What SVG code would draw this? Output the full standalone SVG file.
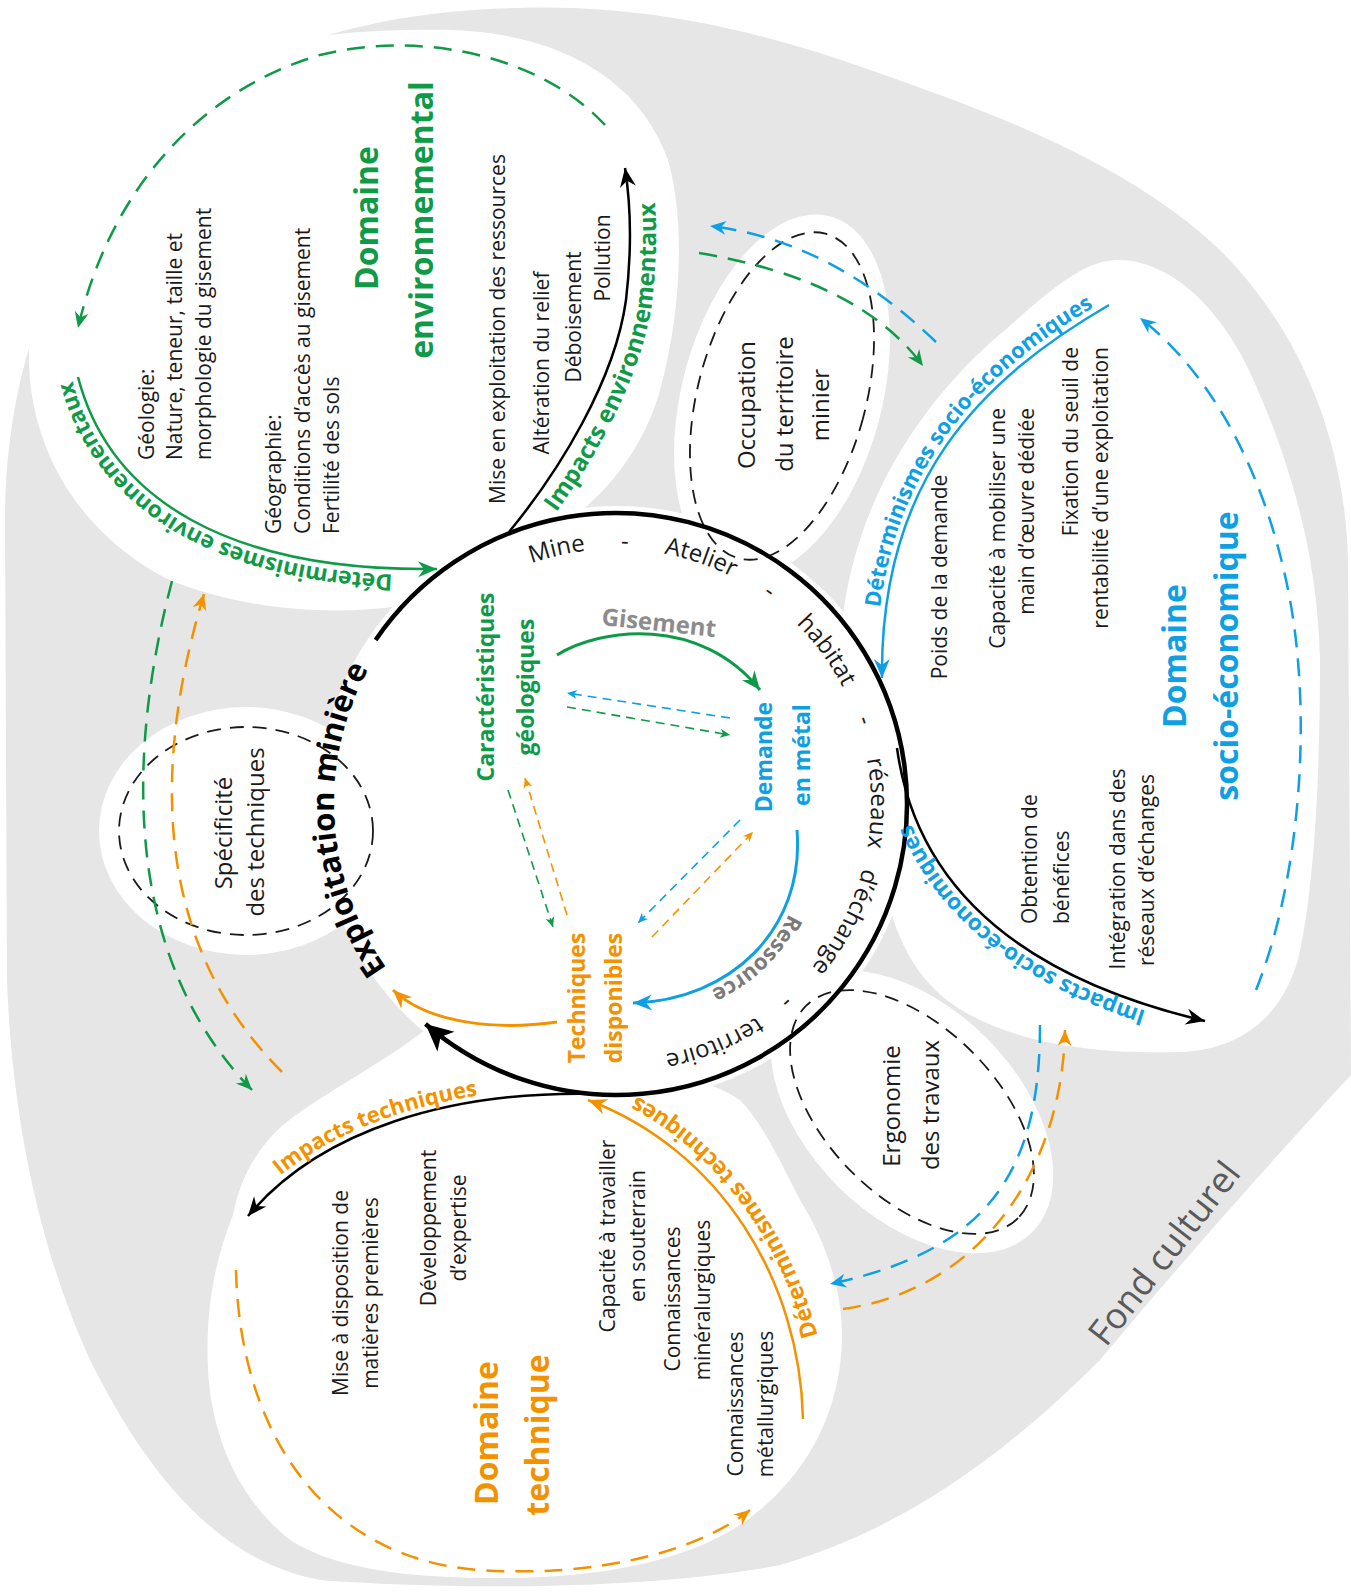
<svg xmlns="http://www.w3.org/2000/svg" width="1351" height="1595" viewBox="0 0 1351 1595">
<style>
text{font-family:"Open Sans","Liberation Sans",sans-serif}
.t{font-size:21px;fill:#1a1a1a}
.ti{font-size:32px;font-weight:700}
.nl{font-size:23px;font-weight:700}
.al{font-weight:700}
.rg{font-size:24px;fill:#1a1a1a}
.el{font-size:24px;fill:#1a1a1a}
.cg{fill:#0f9a48}.cb{fill:#0ea0e3}.co{fill:#f39200}.cy{fill:#8c8c8c}
.ln{fill:none}
.dl{stroke-dasharray:18 11}
.ds{stroke-dasharray:9 6}
.de{fill:none;stroke:#1a1a1a;stroke-width:1.8;stroke-dasharray:14 9}
.zone{fill:#fff}
</style>
<defs>
<marker id="mBL" markerUnits="userSpaceOnUse" viewBox="-28 -14 30 28" markerWidth="30" markerHeight="28" refX="0" refY="0" orient="auto"><path d="M0,0 L-27,-13 L-20,0 L-27,13Z" fill="#000"/></marker>
<marker id="mB" markerUnits="userSpaceOnUse" viewBox="-20 -9 22 18" markerWidth="22" markerHeight="18" refX="0" refY="0" orient="auto"><path d="M0,0 L-19,-8 L-13,0 L-19,8Z" fill="#000"/></marker>
<marker id="mG" markerUnits="userSpaceOnUse" viewBox="-20 -9 22 18" markerWidth="22" markerHeight="18" refX="0" refY="0" orient="auto"><path d="M0,0 L-19,-8 L-13,0 L-19,8Z" fill="#0f9a48"/></marker>
<marker id="mU" markerUnits="userSpaceOnUse" viewBox="-20 -9 22 18" markerWidth="22" markerHeight="18" refX="0" refY="0" orient="auto"><path d="M0,0 L-19,-8 L-13,0 L-19,8Z" fill="#0ea0e3"/></marker>
<marker id="mO" markerUnits="userSpaceOnUse" viewBox="-20 -9 22 18" markerWidth="22" markerHeight="18" refX="0" refY="0" orient="auto"><path d="M0,0 L-19,-8 L-13,0 L-19,8Z" fill="#f39200"/></marker>
<marker id="mGd" markerUnits="userSpaceOnUse" viewBox="-18 -8 20 16" markerWidth="20" markerHeight="16" refX="0" refY="0" orient="auto"><path d="M0,0 L-16,-7 L-11,0 L-16,7Z" fill="#0f9a48"/></marker>
<marker id="mUd" markerUnits="userSpaceOnUse" viewBox="-18 -8 20 16" markerWidth="20" markerHeight="16" refX="0" refY="0" orient="auto"><path d="M0,0 L-16,-7 L-11,0 L-16,7Z" fill="#0ea0e3"/></marker>
<marker id="mOd" markerUnits="userSpaceOnUse" viewBox="-18 -8 20 16" markerWidth="20" markerHeight="16" refX="0" refY="0" orient="auto"><path d="M0,0 L-16,-7 L-11,0 L-16,7Z" fill="#f39200"/></marker>
<marker id="mGs" markerUnits="userSpaceOnUse" viewBox="-12 -6 14 12" markerWidth="14" markerHeight="12" refX="0" refY="0" orient="auto"><path d="M0,0 L-10,-4.5 L-7,0 L-10,4.5Z" fill="#0f9a48"/></marker>
<marker id="mUs" markerUnits="userSpaceOnUse" viewBox="-12 -6 14 12" markerWidth="14" markerHeight="12" refX="0" refY="0" orient="auto"><path d="M0,0 L-10,-4.5 L-7,0 L-10,4.5Z" fill="#0ea0e3"/></marker>
<marker id="mOs" markerUnits="userSpaceOnUse" viewBox="-12 -6 14 12" markerWidth="14" markerHeight="12" refX="0" refY="0" orient="auto"><path d="M0,0 L-10,-4.5 L-7,0 L-10,4.5Z" fill="#f39200"/></marker>
<path id="pRing" d="M 361,804 A 255,255 0 1 1 871,804 A 255,255 0 1 1 361,804"/>
<path id="pExpl" d="M 475,1048.2 A 282,282 0 0 1 475,559.8"/>
<path id="pDetEnv" d="M 435,575 C 230,578 104,504 72,379 C 66,355 63,335 62,310"/>
<path id="pImpEnv" d="M 529,548 C 580,486 640,388 652,303 C 659,240 656,200 651,166"/>
<path id="pDetSoc" d="M 876,678 C 874,480 976,374 1106,300"/>
<path id="pImpSoc" d="M 1204,1027 C 1008,981 909,884 891,749"/>
<path id="pImpTech" d="M 243,1212 C 315,1126 449,1084 600,1088"/>
<path id="pDetTech" d="M 829,1419 C 826,1277 736,1129 599,1080"/>
<path id="pRes" d="M 803,830 C 812,934 733,1005 633,1008"/>
</defs>

<g id="fond-culturel">
<path d="M 520,8 C 640,4 760,30 870,70 C 1000,115 1130,165 1220,250 C 1300,330 1345,440 1348,560 L 1351,1075 C 1300,1130 1200,1240 1100,1360 C 1000,1460 900,1530 780,1565 C 650,1590 450,1590 320,1580 C 210,1560 140,1460 90,1360 C 40,1250 12,1120 7,980 L 5,520 C 5,380 50,240 150,133 C 250,40 390,10 520,8 Z" fill="#e6e6e6"/>
<text x="1106" y="1348" transform="rotate(-52 1106 1348)" font-size="36" fill="#5a5a5a">Fond culturel</text>
</g>

<g id="zones">
<path class="zone" d="M 400,606 C 330,616 240,610 165,578 C 85,535 38,462 30,380 C 22,280 50,170 130,105 C 210,45 320,28 450,30 C 560,33 640,80 668,160 C 685,220 682,310 660,390 C 645,445 610,490 570,520 Z"/>
<path class="zone" d="M 840,660 C 842,520 915,405 1005,330 C 1045,295 1080,262 1115,260 C 1170,258 1228,310 1262,400 C 1292,470 1318,560 1320,660 C 1320,800 1312,900 1298,960 C 1280,1020 1238,1050 1180,1052 C 1100,1054 1020,1046 958,1008 C 915,980 893,935 884,880 L 884,800 Z"/>
<path class="zone" d="M 425,1030 C 380,1065 320,1095 283,1125 C 255,1150 240,1180 233,1215 C 215,1260 205,1310 208,1370 C 212,1440 240,1500 290,1540 C 340,1572 420,1578 500,1578 C 600,1578 690,1562 750,1518 C 810,1472 840,1410 842,1340 C 843,1290 825,1240 800,1200 C 780,1160 760,1120 740,1100 C 710,1080 690,1080 660,1085 Z"/>
<circle class="zone" cx="616" cy="804" r="298"/>
<ellipse class="zone" cx="246" cy="831" rx="147" ry="124"/>
<ellipse class="zone" cx="782" cy="396" rx="100" ry="186" transform="rotate(15 782 396)"/>
<ellipse class="zone" cx="912" cy="1112" rx="170" ry="105" transform="rotate(45 912 1112)"/>
</g>

<g id="node-environnemental">
<text class="ti cg" text-anchor="middle" transform="translate(378,218) rotate(-90)">Domaine</text>
<text class="ti cg" text-anchor="middle" transform="translate(433,220) rotate(-90)">environnemental</text>
<text class="t" transform="translate(154,460) rotate(-90)">Géologie:</text>
<text class="t" transform="translate(182,460) rotate(-90)">Nature, teneur, taille et</text>
<text class="t" transform="translate(211,460) rotate(-90)">morphologie du gisement</text>
<text class="t" transform="translate(281,534) rotate(-90)">Géographie:</text>
<text class="t" transform="translate(310,534) rotate(-90)">Conditions d’accès au gisement</text>
<text class="t" transform="translate(339,534) rotate(-90)">Fertilité des sols</text>
<text class="t" text-anchor="middle" transform="translate(505,329) rotate(-90)">Mise en exploitation des ressources</text>
<text class="t" text-anchor="middle" transform="translate(549,363) rotate(-90)">Altération du relief</text>
<text class="t" text-anchor="middle" transform="translate(581,317) rotate(-90)">Déboisement</text>
<text class="t" text-anchor="middle" transform="translate(610,258) rotate(-90)">Pollution</text>
</g>

<g id="node-socio-economique">
<text class="ti cb" text-anchor="middle" transform="translate(1186,656) rotate(-90)">Domaine</text>
<text class="ti cb" text-anchor="middle" transform="translate(1238,656) rotate(-90)">socio-économique</text>
<text class="t" text-anchor="middle" transform="translate(947,577) rotate(-90)">Poids de la demande</text>
<text class="t" text-anchor="end" transform="translate(1005,408) rotate(-90)">Capacité à mobiliser une</text>
<text class="t" text-anchor="end" transform="translate(1034,408) rotate(-90)">main d’œuvre dédiée</text>
<text class="t" text-anchor="end" transform="translate(1078,347) rotate(-90)">Fixation du seuil de</text>
<text class="t" text-anchor="end" transform="translate(1108,347) rotate(-90)">rentabilité d’une exploitation</text>
<text class="t" transform="translate(1037,924) rotate(-90)">Obtention de</text>
<text class="t" transform="translate(1069,924) rotate(-90)">bénéfices</text>
<text class="t" text-anchor="middle" transform="translate(1125,869) rotate(-90)">Intégration dans des</text>
<text class="t" text-anchor="middle" transform="translate(1154,870) rotate(-90)">réseaux d’échanges</text>
</g>

<g id="node-technique">
<text class="ti co" text-anchor="middle" transform="translate(498,1433) rotate(-90)">Domaine</text>
<text class="ti co" text-anchor="middle" transform="translate(549,1435) rotate(-90)">technique</text>
<text class="t" text-anchor="middle" transform="translate(348,1293) rotate(-90)">Mise à disposition de</text>
<text class="t" text-anchor="middle" transform="translate(378,1293) rotate(-90)">matières premières</text>
<text class="t" text-anchor="middle" transform="translate(436,1228) rotate(-90)">Développement</text>
<text class="t" text-anchor="middle" transform="translate(466,1228) rotate(-90)">d’expertise</text>
<text class="t" text-anchor="middle" transform="translate(615,1236) rotate(-90)">Capacité à travailler</text>
<text class="t" text-anchor="middle" transform="translate(645,1236) rotate(-90)">en souterrain</text>
<text class="t" text-anchor="middle" transform="translate(680,1299) rotate(-90)">Connaissances</text>
<text class="t" text-anchor="middle" transform="translate(710,1300) rotate(-90)">minéralurgiques</text>
<text class="t" text-anchor="middle" transform="translate(743,1404) rotate(-90)">Connaissances</text>
<text class="t" text-anchor="middle" transform="translate(773,1404) rotate(-90)">métallurgiques</text>
</g>

<g id="node-occupation">
<ellipse class="de" cx="782" cy="396" rx="84" ry="168" transform="rotate(15 782 396)"/>
<text class="el" text-anchor="middle" transform="translate(755,405) rotate(-90)">Occupation</text>
<text class="el" text-anchor="middle" transform="translate(793,404) rotate(-90)">du territoire</text>
<text class="el" text-anchor="middle" transform="translate(829,405) rotate(-90)">minier</text>
</g>

<g id="node-specificite">
<ellipse class="de" cx="246" cy="831" rx="127" ry="104"/>
<text class="el" text-anchor="middle" transform="translate(232,833) rotate(-90)">Spécificité</text>
<text class="el" text-anchor="middle" transform="translate(264,832) rotate(-90)">des techniques</text>
</g>

<g id="node-ergonomie">
<ellipse class="de" cx="912" cy="1112" rx="150" ry="85" transform="rotate(45 912 1112)"/>
<text class="el" text-anchor="middle" transform="translate(900,1106) rotate(-90)">Ergonomie</text>
<text class="el" text-anchor="middle" transform="translate(939,1105) rotate(-90)">des travaux</text>
</g>

<g id="node-exploitation">
<path class="ln" d="M 375.6,640 A 291,291 0 1 1 425.5,1024" stroke="#000" stroke-width="4.5" marker-end="url(#mBL)"/>
<text font-size="31" font-weight="700" fill="#000" text-anchor="middle"><textPath href="#pExpl" startOffset="278">Exploitation minière</textPath></text>
<text class="rg" text-anchor="middle"><textPath href="#pRing" startOffset="342">Mine</textPath></text>
<text class="rg" text-anchor="middle"><textPath href="#pRing" startOffset="409">-</textPath></text>
<text class="rg" text-anchor="middle"><textPath href="#pRing" startOffset="485">Atelier</textPath></text>
<text class="rg" text-anchor="middle"><textPath href="#pRing" startOffset="560">-</textPath></text>
<text class="rg" text-anchor="middle"><textPath href="#pRing" startOffset="640">habitat</textPath></text>
<text class="rg" text-anchor="middle"><textPath href="#pRing" startOffset="718">-</textPath></text>
<text class="rg" text-anchor="middle"><textPath href="#pRing" startOffset="800">réseaux</textPath></text>
<text class="rg" text-anchor="middle"><textPath href="#pRing" startOffset="922">d’échange</textPath></text>
<text class="rg" text-anchor="middle"><textPath href="#pRing" startOffset="1020">-</textPath></text>
<text class="rg" text-anchor="middle"><textPath href="#pRing" startOffset="1102">territoire</textPath></text>
</g>

<g id="node-caracteristiques">
<text class="nl cg" text-anchor="middle" transform="translate(494,687) rotate(-90)">Caractéristiques</text>
<text class="nl cg" text-anchor="middle" transform="translate(534,687) rotate(-90)">géologiques</text>
</g>
<g id="node-demande">
<text class="nl cb" text-anchor="middle" transform="translate(772,757) rotate(-90)">Demande</text>
<text class="nl cb" text-anchor="middle" transform="translate(810,755) rotate(-90)">en métal</text>
</g>
<g id="node-techniques">
<text class="nl co" text-anchor="middle" transform="translate(585,998) rotate(-90)">Techniques</text>
<text class="nl co" text-anchor="middle" transform="translate(622,998) rotate(-90)">disponibles</text>
</g>

<g id="connectors">
<path class="ln dl" d="M 605,125 C 540,55 420,30 320,55 C 200,90 110,190 78,328" stroke="#0f9a48" stroke-width="2.5" marker-end="url(#mGd)"/>
<path class="ln" d="M 78,377 C 110,500 230,572 437,569" stroke="#0f9a48" stroke-width="2.5" marker-end="url(#mG)"/>
<text class="al cg" font-size="23"><textPath href="#pDetEnv" startOffset="42">Déterminismes environnementaux</textPath></text>
<path class="ln" d="M 509,532 C 560,470 615,380 626,300 C 633,240 630,200 625,168" stroke="#000" stroke-width="2.5" marker-end="url(#mB)"/>
<text class="al cg" font-size="24" text-anchor="middle"><textPath href="#pImpEnv" startOffset="51%">Impacts environnementaux</textPath></text>
<path class="ln dl" d="M 1256,990 C 1300,880 1312,720 1290,600 C 1270,490 1220,380 1140,318" stroke="#0ea0e3" stroke-width="2.5" marker-end="url(#mUd)"/>
<path class="ln" d="M 1109,305 C 980,380 880,480 882,678" stroke="#0ea0e3" stroke-width="2.5" marker-end="url(#mU)"/>
<text class="al cb" font-size="22" text-anchor="middle"><textPath href="#pDetSoc" startOffset="56%">Déterminismes socio-économiques</textPath></text>
<path class="ln" d="M 897,748 C 915,880 1010,975 1205,1021" stroke="#000" stroke-width="2.5" marker-end="url(#mB)"/>
<text class="al cb" font-size="22.5" text-anchor="middle"><textPath href="#pImpSoc" startOffset="48%">Impacts socio-économiques</textPath></text>
<path class="ln dl" d="M 236,1270 C 240,1440 330,1560 480,1570 C 600,1578 700,1550 750,1510" stroke="#f39200" stroke-width="2.5" marker-end="url(#mOd)"/>
<path class="ln" d="M 600,1094 C 450,1090 320,1130 248,1216" stroke="#000" stroke-width="2.5" marker-end="url(#mB)"/>
<text class="al co" font-size="22" text-anchor="middle"><textPath href="#pImpTech" startOffset="41%">Impacts techniques</textPath></text>
<path class="ln" d="M 803,1419 C 800,1280 720,1150 588,1100" stroke="#f39200" stroke-width="2.5" marker-end="url(#mO)"/>
<text class="al co" font-size="23" text-anchor="middle"><textPath href="#pDetTech" startOffset="55%">Déterminismes techniques</textPath></text>
<path class="ln dl" d="M 936,342 Q 830,240 710,226" stroke="#0ea0e3" stroke-width="2.5" marker-end="url(#mUd)"/>
<path class="ln dl" d="M 699,253 Q 860,280 923,366" stroke="#0f9a48" stroke-width="2.5" marker-end="url(#mGd)"/>
<path class="ln dl" d="M 172,581 C 125,760 125,960 252,1090" stroke="#0f9a48" stroke-width="2.5" marker-end="url(#mGd)"/>
<path class="ln dl" d="M 282,1072 C 160,950 148,780 204,594" stroke="#f39200" stroke-width="2.5" marker-end="url(#mOd)"/>
<path class="ln dl" d="M 1040,1025 C 1040,1170 990,1250 830,1284" stroke="#0ea0e3" stroke-width="2.5" marker-end="url(#mUd)"/>
<path class="ln dl" d="M 843,1309 C 980,1290 1062,1170 1065,1030" stroke="#f39200" stroke-width="2.5" marker-end="url(#mOd)"/>
<path class="ln" d="M 557,655 C 600,628 700,615 760,690" stroke="#0f9a48" stroke-width="3" marker-end="url(#mG)"/>
<text x="658" y="631" transform="rotate(6 658 631)" text-anchor="middle" font-size="24" font-weight="700" fill="#8c8c8c">Gisement</text>
<path class="ln" d="M 797,830 C 805,930 730,1000 633,1003" stroke="#0ea0e3" stroke-width="3" marker-end="url(#mU)"/>
<text font-size="22" font-weight="700" fill="#7a7a7a" text-anchor="middle"><textPath href="#pRes" startOffset="51%">Ressource</textPath></text>
<path class="ln" d="M 557,1022 C 500,1030 430,1025 393,990" stroke="#f39200" stroke-width="3" marker-end="url(#mO)"/>
<path class="ln ds" d="M 730,718 L 567,693" stroke="#0ea0e3" stroke-width="1.6" marker-end="url(#mUs)"/>
<path class="ln ds" d="M 567,707 L 730,735" stroke="#0f9a48" stroke-width="1.6" marker-end="url(#mGs)"/>
<path class="ln ds" d="M 508,790 L 553,927" stroke="#0f9a48" stroke-width="1.6" marker-end="url(#mGs)"/>
<path class="ln ds" d="M 567,915 L 525,778" stroke="#f39200" stroke-width="1.6" marker-end="url(#mOs)"/>
<path class="ln ds" d="M 740,820 L 638,923" stroke="#0ea0e3" stroke-width="1.6" marker-end="url(#mUs)"/>
<path class="ln ds" d="M 652,937 L 753,832" stroke="#f39200" stroke-width="1.6" marker-end="url(#mOs)"/>
</g>
</svg>
